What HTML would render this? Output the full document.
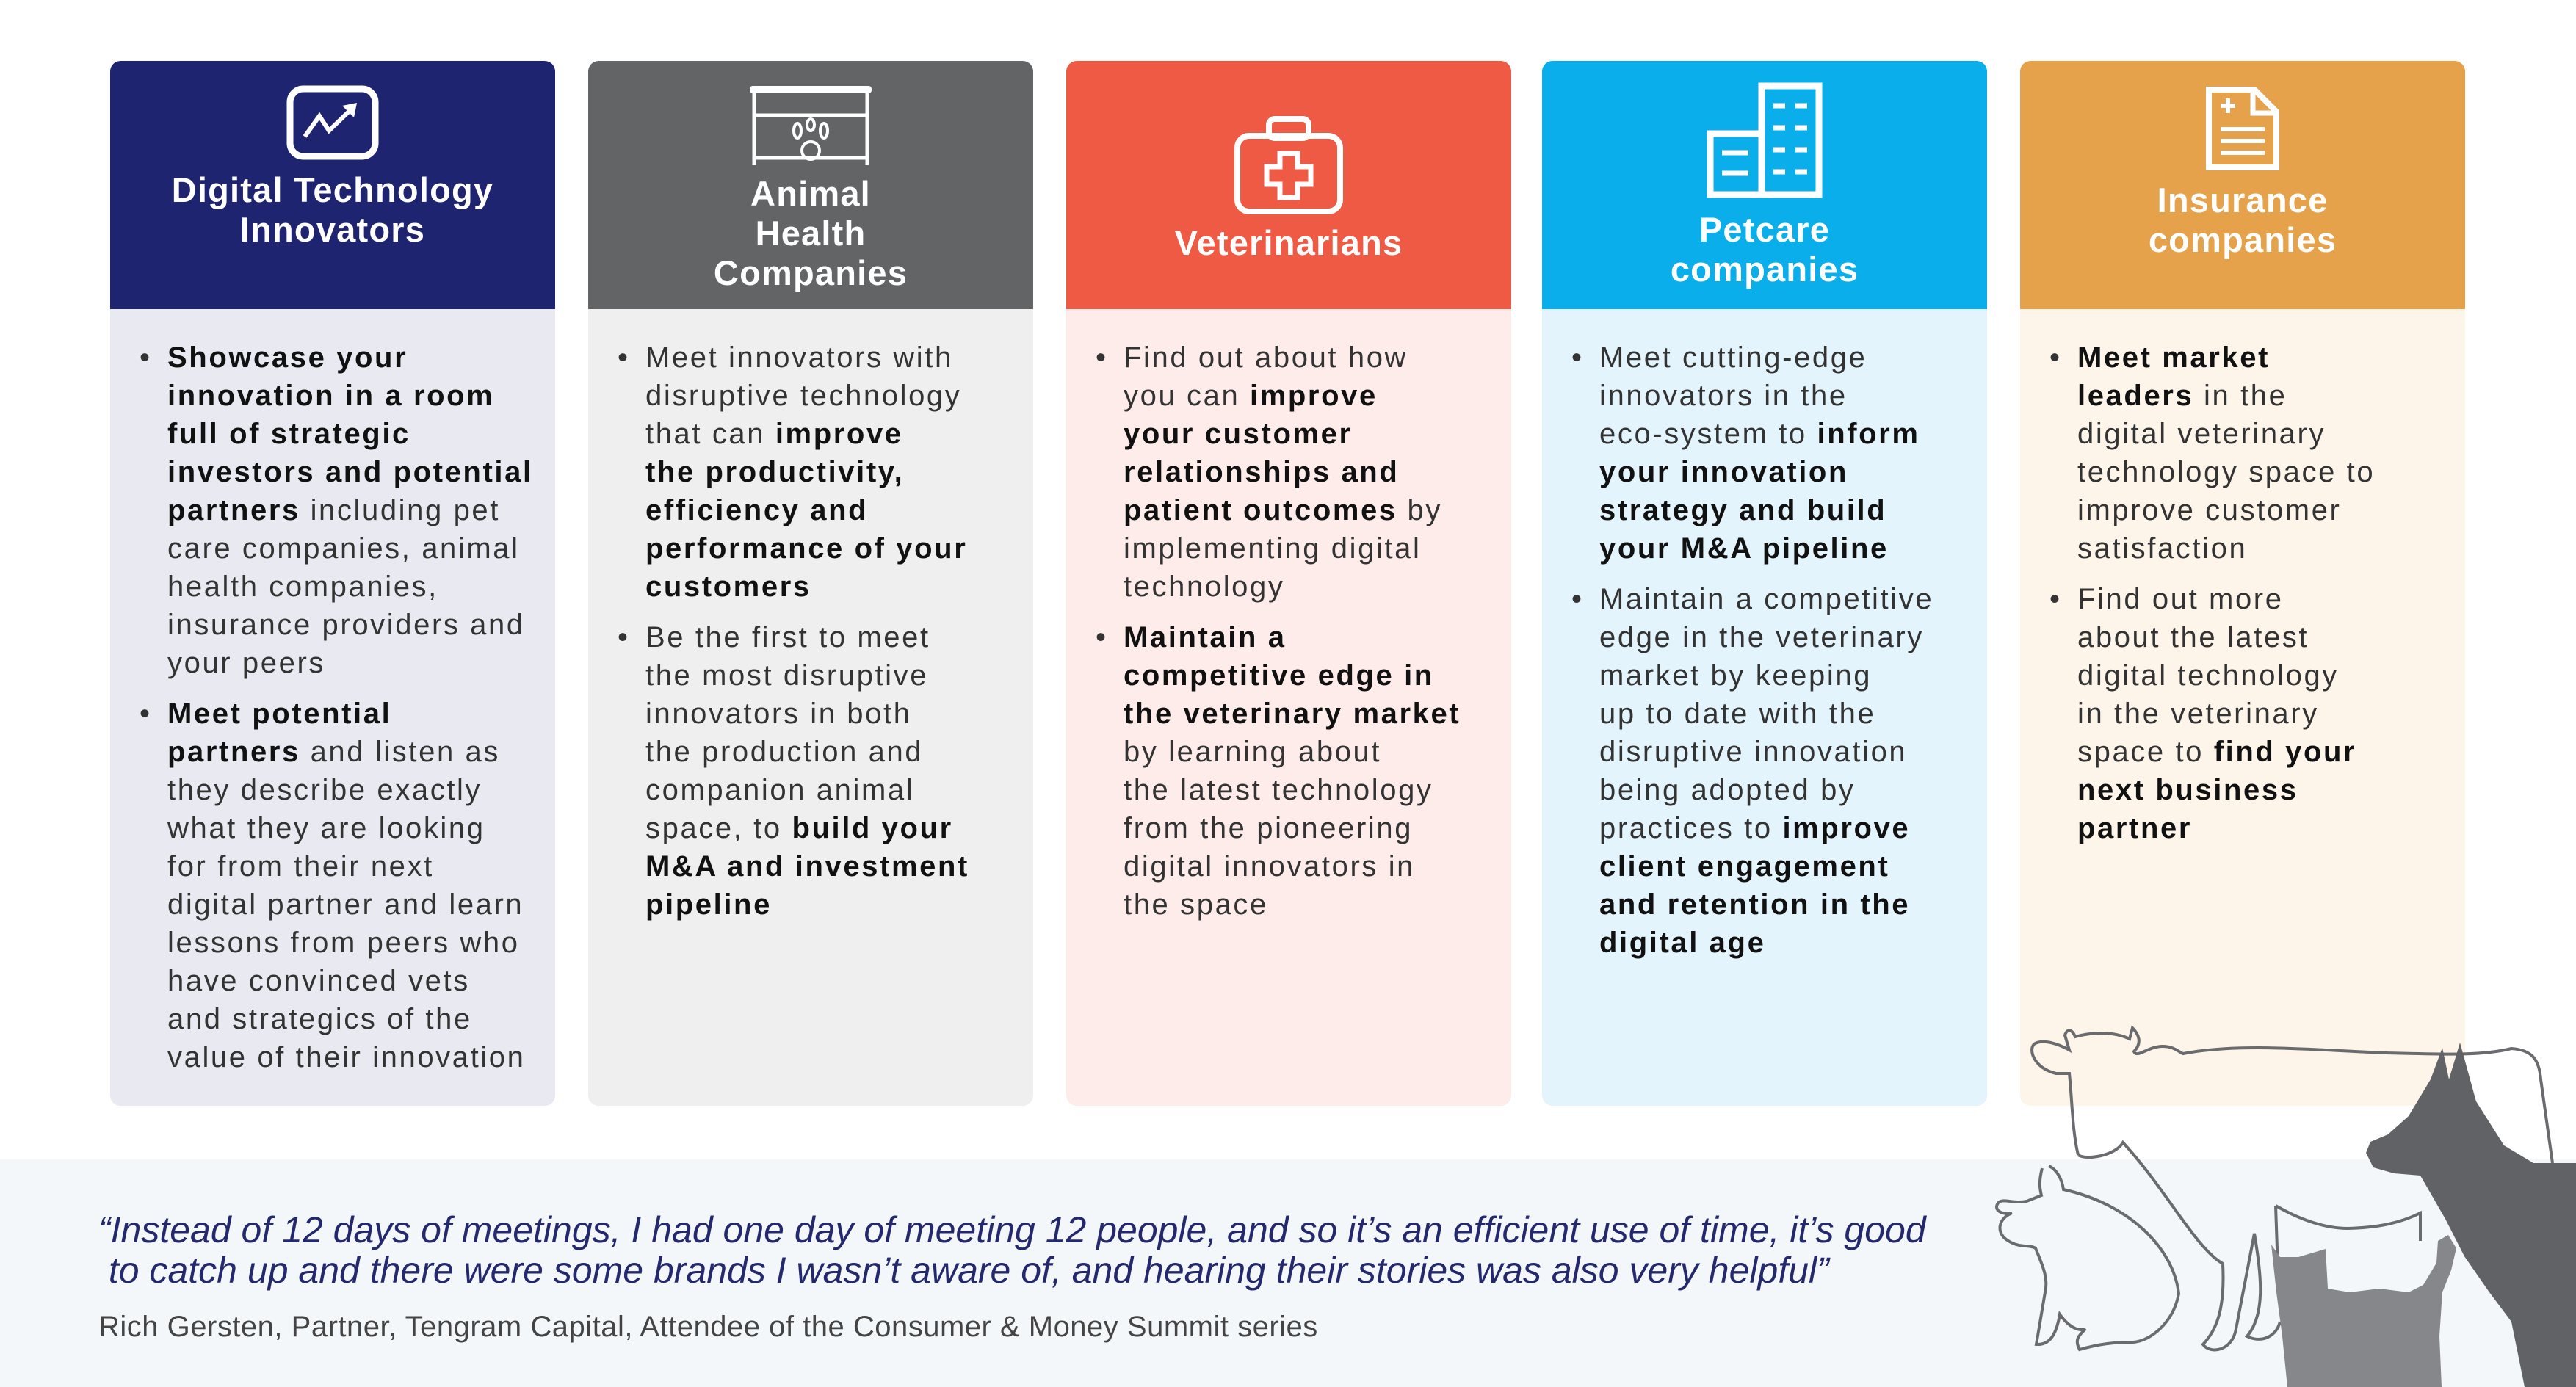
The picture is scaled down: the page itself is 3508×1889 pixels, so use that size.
<!DOCTYPE html>
<html><head><meta charset="utf-8"><style>
*{margin:0;padding:0;box-sizing:border-box}
html,body{width:3508px;height:1889px;overflow:hidden}
body{background:#fff;position:relative;font-family:"Liberation Sans",sans-serif}
.col{position:absolute;top:83px;width:606px;height:1423px;border-radius:14px;overflow:hidden}
.hd{position:absolute;left:0;top:0;width:100%;height:338px;border-radius:14px 14px 0 0}
.ttl{position:absolute;left:0;width:100%;text-align:center;color:#fff;font-weight:bold;font-size:47px;line-height:54px;letter-spacing:1.2px}
.ic{position:absolute;left:50%;transform:translateX(-50%)}
.bd{position:absolute;left:0;top:338px;width:100%;bottom:0}
ul{position:absolute;left:78px;top:40px;list-style:none;font-size:40px;line-height:52px;color:#333;letter-spacing:2.6px}
li{position:relative;margin-bottom:17px;white-space:nowrap}
li:before{content:"•";position:absolute;left:-38px}
b{color:#111}
</style></head><body>

<div class="col" style="left:150px">
 <div class="hd" style="background:#1f2470">
  <svg class="ic" style="top:33px" width="126" height="102" viewBox="0 0 126 102"><rect x="5" y="5" width="116" height="92" rx="18" fill="none" stroke="#fff" stroke-width="9"/><polyline points="25,70 45,42 58,62 88,33" fill="none" stroke="#fff" stroke-width="6"/><polygon points="76,28 96,24 92,44" fill="#fff"/></svg>
  <div class="ttl" style="top:149px">Digital Technology<br>Innovators</div>
 </div>
 <div class="bd" style="background:#e8e9f1"><ul>
  <li><b>Showcase your<br>innovation in a room<br>full of strategic<br>investors and potential<br>partners</b> including pet<br>care companies, animal<br>health companies,<br>insurance providers and<br>your peers</li>
  <li><b>Meet potential<br>partners</b> and listen as<br>they describe exactly<br>what they are looking<br>for from their next<br>digital partner and learn<br>lessons from peers who<br>have convinced vets<br>and strategics of the<br>value of their innovation</li>
 </ul></div>
</div>

<div class="col" style="left:801px">
 <div class="hd" style="background:#636466">
  <svg class="ic" style="top:32px" width="170" height="110" viewBox="0 0 170 110"><rect x="2" y="2" width="166" height="10" rx="4" fill="#fff"/><line x1="8" y1="10" x2="8" y2="110" stroke="#fff" stroke-width="5"/><line x1="162" y1="10" x2="162" y2="110" stroke="#fff" stroke-width="5"/><line x1="8" y1="42" x2="162" y2="42" stroke="#fff" stroke-width="5"/><line x1="8" y1="100" x2="162" y2="100" stroke="#fff" stroke-width="5"/><ellipse cx="67" cy="63" rx="5" ry="10" fill="none" stroke="#fff" stroke-width="4"/><ellipse cx="85" cy="55" rx="5" ry="8" fill="none" stroke="#fff" stroke-width="4"/><ellipse cx="103" cy="63" rx="5" ry="10" fill="none" stroke="#fff" stroke-width="4"/><circle cx="85" cy="90" r="12" fill="none" stroke="#fff" stroke-width="4"/></svg>
  <div class="ttl" style="top:154px">Animal<br>Health<br>Companies</div>
 </div>
 <div class="bd" style="background:#efeff0"><ul>
  <li>Meet innovators with<br>disruptive technology<br>that can <b>improve<br>the productivity,<br>efficiency and<br>performance of your<br>customers</b></li>
  <li>Be the first to meet<br>the most disruptive<br>innovators in both<br>the production and<br>companion animal<br>space, to <b>build your<br>M&amp;A and investment<br>pipeline</b></li>
 </ul></div>
</div>

<div class="col" style="left:1452px">
 <div class="hd" style="background:#ee5a44">
  <svg class="ic" style="top:74px" width="150" height="136" viewBox="0 0 150 136"><rect x="48" y="5" width="54" height="26" rx="8" fill="none" stroke="#fff" stroke-width="8"/><rect x="5" y="28" width="140" height="103" rx="16" fill="none" stroke="#fff" stroke-width="8"/><path d="M63 52h24v18h18v24h-18v18h-24v-18h-18v-24h18z" fill="none" stroke="#fff" stroke-width="7"/></svg>
  <div class="ttl" style="top:221px">Veterinarians</div>
 </div>
 <div class="bd" style="background:#fdecea"><ul>
  <li>Find out about how<br>you can <b>improve<br>your customer<br>relationships and<br>patient outcomes</b> by<br>implementing digital<br>technology</li>
  <li><b>Maintain a<br>competitive edge in<br>the veterinary market</b><br>by learning about<br>the latest technology<br>from the pioneering<br>digital innovators in<br>the space</li>
 </ul></div>
</div>

<div class="col" style="left:2100px">
 <div class="hd" style="background:#0aaeea">
  <svg class="ic" style="top:29px" width="160" height="158" viewBox="0 0 160 158"><rect x="76" y="5" width="78" height="148" fill="none" stroke="#fff" stroke-width="9"/><rect x="6" y="70" width="70" height="83" fill="none" stroke="#fff" stroke-width="9"/><g stroke="#fff" stroke-width="7"><line x1="92" y1="32" x2="108" y2="32"/><line x1="122" y1="32" x2="138" y2="32"/><line x1="92" y1="62" x2="108" y2="62"/><line x1="122" y1="62" x2="138" y2="62"/><line x1="92" y1="92" x2="108" y2="92"/><line x1="122" y1="92" x2="138" y2="92"/><line x1="92" y1="122" x2="108" y2="122"/><line x1="122" y1="122" x2="138" y2="122"/><line x1="22" y1="96" x2="58" y2="96"/><line x1="22" y1="124" x2="58" y2="124"/></g></svg>
  <div class="ttl" style="top:203px">Petcare<br>companies</div>
 </div>
 <div class="bd" style="background:#e3f4fc"><ul>
  <li>Meet cutting-edge<br>innovators in the<br>eco-system to <b>inform<br>your innovation<br>strategy and build<br>your M&amp;A pipeline</b></li>
  <li>Maintain a competitive<br>edge in the veterinary<br>market by keeping<br>up to date with the<br>disruptive innovation<br>being adopted by<br>practices to <b>improve<br>client engagement<br>and retention in the<br>digital age</b></li>
 </ul></div>
</div>

<div class="col" style="left:2751px">
 <div class="hd" style="background:#e5a24a">
  <svg class="ic" style="top:33px" width="104" height="118" viewBox="0 0 104 118"><path d="M6 6h62l30 30v76h-92z" fill="none" stroke="#fff" stroke-width="8"/><path d="M66 6v32h32" fill="none" stroke="#fff" stroke-width="7"/><g stroke="#fff" stroke-width="6"><line x1="22" y1="28" x2="42" y2="28"/><line x1="32" y1="18" x2="32" y2="38"/><line x1="22" y1="60" x2="82" y2="60"/><line x1="22" y1="76" x2="82" y2="76"/><line x1="22" y1="92" x2="82" y2="92"/></g></svg>
  <div class="ttl" style="top:163px">Insurance<br>companies</div>
 </div>
 <div class="bd" style="background:#fdf4ea"><ul>
  <li><b>Meet market<br>leaders</b> in the<br>digital veterinary<br>technology space to<br>improve customer<br>satisfaction</li>
  <li>Find out more<br>about the latest<br>digital technology<br>in the veterinary<br>space to <b>find your<br>next business<br>partner</b></li>
 </ul></div>
</div>

<div style="position:absolute;left:0;top:1579px;width:3508px;height:310px;background:#f3f7fa"></div>
<div style="position:absolute;left:134px;top:1648px;font-size:50px;line-height:55px;font-style:italic;color:#24296e;white-space:nowrap">“Instead of 12 days of meetings, I had one day of meeting 12 people, and so it’s an efficient use of time, it’s good<br>&nbsp;to catch up and there were some brands I wasn’t aware of, and hearing their stories was also very helpful”</div>
<div style="position:absolute;left:134px;top:1784px;font-size:40px;line-height:46px;color:#444;white-space:nowrap;letter-spacing:.5px">Rich Gersten, Partner, Tengram Capital, Attendee of the Consumer &amp; Money Summit series</div>

<svg style="position:absolute;left:0;top:0" width="3508" height="1889" viewBox="0 0 3508 1889">
 <g fill="none" stroke="#6a6b6e" stroke-width="4">
  <path d="M2830,1573 C2822,1540 2822,1500 2818,1462 L2800,1462 C2770,1455 2762,1430 2770,1422 C2780,1415 2800,1420 2818,1430 L2812,1410 C2815,1400 2822,1402 2826,1412 C2850,1405 2880,1405 2900,1415 L2904,1400 C2912,1408 2918,1420 2906,1432 C2910,1442 2925,1425 2945,1425 C2960,1425 2966,1432 2973,1435 C3050,1420 3150,1430 3250,1434 C3330,1436 3380,1438 3420,1428 C3450,1430 3458,1445 3460,1470 L3476,1584"/>
  <path d="M2830,1573 C2840,1580 2880,1575 2891,1556 C2950,1620 2990,1700 3027,1721 C3030,1780 3020,1810 3000,1831 C3010,1845 3040,1840 3045,1810 L3070,1680 C3080,1740 3085,1790 3060,1820 C3080,1830 3100,1820 3105,1800"/>
  <path d="M2781,1591 C2776,1610 2778,1620 2780,1628 L2760,1636 C2740,1640 2725,1630 2720,1640 C2715,1650 2730,1655 2740,1652 C2720,1660 2718,1680 2735,1690 C2750,1700 2765,1695 2772,1700 C2780,1720 2790,1740 2785,1760 L2773,1831 C2790,1832 2800,1820 2805,1790 C2812,1800 2826,1815 2840,1810 C2830,1820 2825,1825 2832,1838 C2860,1830 2880,1828 2905,1828 C2930,1826 2960,1800 2967,1762 C2960,1700 2900,1640 2810,1620 C2808,1605 2800,1592 2790,1588"/>
  <path d="M3099,1642 C3130,1660 3165,1673 3197,1673 C3240,1672 3270,1665 3296,1652 L3296,1690"/>
  <path d="M3099,1642 L3102,1730"/>
 </g>
 <path fill="#616265" d="M3326,1427 L3335,1470 L3350,1420 L3372,1500 L3410,1560 L3450,1584 L3508,1584 L3508,1889 L3438,1889 L3420,1800 L3390,1760 L3356,1711 L3330,1660 L3296,1601 L3260,1598 L3232,1590 L3222,1570 L3228,1555 L3252,1545 L3280,1520 L3310,1470 Z"/>
 <path fill="#86878b" d="M3093,1695 L3105,1712 L3130,1712 L3167,1701 L3170,1755 L3200,1760 L3240,1755 L3280,1760 L3300,1750 L3318,1720 L3320,1690 L3334,1682 L3345,1700 L3338,1730 L3326,1760 L3322,1820 L3325,1889 L3115,1889 L3108,1820 L3100,1760 Z"/>
</svg>
</body></html>
